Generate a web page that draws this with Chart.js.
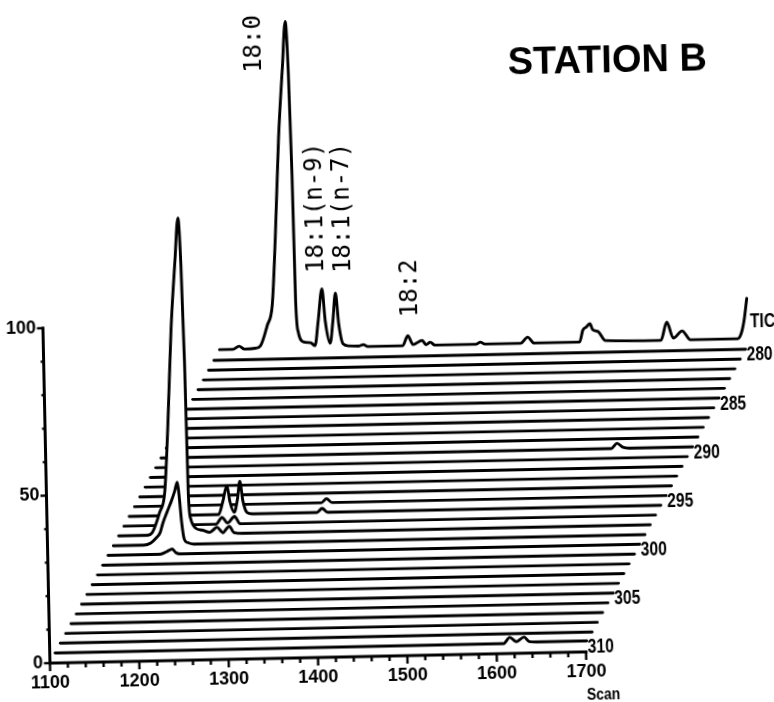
<!DOCTYPE html>
<html>
<head>
<meta charset="utf-8">
<title>Station B</title>
<script src="https://cdn.jsdelivr.net/npm/chart.js@4.4.1/dist/chart.umd.min.js"></script>
<style>
  html, body { margin: 0; padding: 0; background: #fff; overflow: hidden; }
  body { width: 774px; height: 702px; position: relative; }
  /* the original plot sits slightly tilted on the page */
  #wrap { position: absolute; left: -20px; top: -20px; width: 814px; height: 742px;
          transform: rotate(-1.2deg); transform-origin: 50% 50%; }
</style>
</head>
<body>
<div id="wrap"><canvas id="chart" width="814" height="742"></canvas></div>
<script>
// Ion traces, front (310) to back (280); the TIC sits behind them
const masses = [310, 309, 308, 307, 306, 305, 304, 303, 302, 301, 300,
                299, 298, 297, 296, 295, 294, 293, 292, 291, 290,
                289, 288, 287, 286, 285, 284, 283, 282, 281, 280];
const labelledMasses = [280, 285, 290, 295, 300, 305, 310];
const xTicks = [1100, 1200, 1300, 1400, 1500, 1600, 1700];
const yTicks = [0, 50, 100];

// [scan, intensity] pairs
const ticData = [
  [1100, 0], [1115, 0], [1122, 0.9], [1128, 0], [1140, 0.2], [1146, 0.9],
  [1154, 6.9], [1160, 12.8], [1165, 32.8], [1171, 62.7], [1177, 84], [1181.2, 97.5],
  [1183.5, 82], [1185.2, 52], [1186.3, 14], [1188.5, 4.8], [1194, 1.8], [1202, 1.5],
  [1207, 0.6], [1211, 7.8], [1216, 17.5], [1219, 7.8], [1224, 1.2], [1227.5, 7.8],
  [1231, 16.2], [1234, 6.9], [1238.5, 0.9], [1245, 0.3], [1256, 0.2], [1261, 0.6],
  [1266, 0], [1305, 0], [1311, 3.0], [1316.5, 0.3], [1327, 1.5], [1331, 0.2],
  [1336, 0.9], [1341, 0], [1387, 0], [1392, 0.6], [1397, 0], [1437, 0], [1445, 1.8],
  [1452, 0], [1503, 0], [1507, 3.6], [1511, 4.5], [1515, 5.4], [1518, 3.6], [1524, 3.0],
  [1532, 0.3], [1594, 0], [1601, 5.4], [1608, 0.6], [1618, 2.7], [1627, 0], [1680, 0],
  [1684, 1.5], [1687.5, 5.4], [1691, 12.0]
];
const ion310 = [[1106, 0], [1608, 0], [1615, 1.8], [1622, 0.5], [1631, 1.8], [1637, 0.4], [1645, 0.3], [1701, 0.3]];
const ion300 = [[1106, 0], [1163, 0], [1172, 0.8], [1178, 1.5], [1182, 0.4], [1187, 0], [1701, 0]];
const ion299 = [[1106, 0], [1140, 0], [1148, 0.6], [1155, 2.3], [1158.5, 3.5], [1162, 6.5], [1167, 9.8],
                [1172, 13], [1176, 16], [1179, 18.6], [1180.6, 15], [1183, 6.5], [1185.5, 1.5],
                [1189, 0.5], [1196, 0], [1701, 0]];
const ion298 = [[1106, 0], [1138, 0], [1144, 0.9], [1152.5, 6.8], [1158.5, 12.5], [1163.5, 32],
                [1169.5, 61.5], [1175.5, 82], [1179.8, 94.5], [1182, 80.5], [1183.8, 51],
                [1184.9, 12.5], [1187, 4.7], [1192.5, 1.8], [1200, 1.2], [1208, 0.5], [1212, 1.2],
                [1216, 2.0], [1223, 0.3], [1226, 1.2], [1230, 2.2], [1235, 0.3], [1245, 0], [1701, 0]];
const ion297 = [[1106, 0], [1209, 0], [1216, 2.0], [1222, 0.3], [1230, 2.2], [1236, 0], [1701, 0]];
const ion296 = [[1106, 0], [1206, 0], [1211, 3.8], [1216, 8.6], [1219, 3.8], [1223.5, 0.6],
                [1227.5, 4.5], [1230.5, 9.8], [1233.5, 4], [1238, 0.4], [1244, 0], [1316, 0],
                [1322, 1.2], [1328, 0], [1701, 0]];
const ion295 = [[1106, 0], [1315, 0], [1321, 1.2], [1327, 0], [1701, 0]];
const ion290 = [[1106, 0], [1610, 0], [1616.5, 1.5], [1623, 0.3], [1630, 0], [1701, 0]];
const flatTrace = [[1106, 0], [1701, 0]];

const ionData = { 310: ion310, 300: ion300, 299: ion299, 298: ion298, 297: ion297,
                  296: ion296, 295: ion295, 290: ion290 };

// annotation anchors, in the scan / intensity units of the axes
const peakLabels = [
  { text: '18:0', scan: 1340.5, value: 174.9 },
  { text: '18:1(n-9)', scan: 1405.6, value: 114.8 },
  { text: '18:1(n-7)', scan: 1435.8, value: 114.6 },
  { text: '18:2', scan: 1509.8, value: 101.0 }
];

// waterfall projection: each trace further back moves right and up
const stepScan = 6.15;
const stepValue = 2.877;
const baseValue = 3.0;
const ticShift = 197;
const ticBase = 92.5;

// plot frame, in canvas pixels
const frame = { left: 63.5, bottom: 676, width: 814, height: 742, pxPerScan: 0.8937, pxPerUnit: 3.35 };
const xMax = 1100 + (frame.width - frame.left) / frame.pxPerScan;
const yMax = frame.bottom / frame.pxPerUnit;

const ink = '#000';
const sans = '"Liberation Sans", Arial, sans-serif';

const lineStyle = {
  borderColor: ink,
  borderWidth: 2.9,
  backgroundColor: '#fff',
  pointRadius: 0,
  cubicInterpolationMode: 'monotone',
  borderJoinStyle: 'round',
  borderCapStyle: 'round'
};

const datasets = masses.map((m, k) => {
  const base = baseValue + k * stepValue;
  const pts = ionData[m] || flatTrace;
  return Object.assign({
    label: String(m),
    data: pts.map(([s, h]) => ({ x: s + k * stepScan, y: base + h })),
    fill: { value: base },
    order: k
  }, lineStyle);
});
datasets.push(Object.assign({
  label: 'TIC',
  data: ticData.map(([s, h]) => ({ x: s + ticShift, y: ticBase + h })),
  fill: { value: ticBase },
  order: masses.length
}, lineStyle));

// plotter lettering is tall and narrow: squeeze a bold face sideways
function narrowText(ctx, text, x, y, size, squeeze) {
  ctx.save();
  ctx.font = `bold ${size}px ${sans}`;
  ctx.translate(x, y);
  ctx.scale(squeeze, 1);
  ctx.fillText(text, 0, 0);
  ctx.restore();
}

// keep the plot frame exactly where it is measured
function pinAxis(axis, size) {
  if (axis.isHorizontal()) axis.height = size; else axis.width = size;
  axis.paddingTop = 0;
  axis.paddingBottom = 0;
  axis.paddingLeft = 0;
  axis.paddingRight = 0;
}

// axes, tick marks and all the lettering
const plotterAxes = {
  id: 'plotterAxes',
  afterDraw(chart) {
    const { ctx, scales: { x, y } } = chart;
    const px = v => x.getPixelForValue(v);
    const py = v => y.getPixelForValue(v);
    ctx.save();
    ctx.strokeStyle = ink;
    ctx.fillStyle = ink;

    ctx.lineWidth = 3;
    ctx.lineCap = 'square';
    ctx.beginPath();
    ctx.moveTo(px(1100), py(100));
    ctx.lineTo(px(1100), py(0));
    ctx.lineTo(px(1700), py(0));
    ctx.stroke();

    ctx.lineWidth = 2.4;
    ctx.lineCap = 'butt';
    for (let v = 0; v <= 100; v += 10) {
      const len = v % 50 === 0 ? 6 : 3;
      ctx.beginPath();
      ctx.moveTo(px(1100), py(v));
      ctx.lineTo(px(1100) - len, py(v));
      ctx.stroke();
    }
    for (let s = 1100; s <= 1700; s += 20) {
      const len = s % 100 === 0 ? 8 : 5;
      ctx.beginPath();
      ctx.moveTo(px(s), py(0));
      ctx.lineTo(px(s), py(0) + len);
      ctx.stroke();
    }

    // peak names, written upwards
    ctx.font = '24px "DejaVu Sans Mono", monospace';
    ctx.textAlign = 'left';
    ctx.textBaseline = 'alphabetic';
    peakLabels.forEach(l => {
      ctx.save();
      ctx.translate(px(l.scan), py(l.value));
      ctx.rotate(-Math.PI / 2);
      ctx.fillText(l.text, 0, 24 * 0.36);
      ctx.restore();
    });

    // trace numbers at the right ends
    ctx.textBaseline = 'middle';
    labelledMasses.forEach(m => {
      const k = masses.indexOf(m);
      const base = baseValue + k * stepValue;
      narrowText(ctx, String(m), px(1701 + k * stepScan) + 1, py(base - 1.8), 20, 0.78);
    });
    narrowText(ctx, 'TIC', px(1891.2), py(97.5), 20, 0.78);
    ctx.textBaseline = 'top';
    narrowText(ctx, 'Scan', px(1700), py(-10.5), 17, 0.82);

    ctx.font = `bold 38px ${sans}`;
    ctx.textBaseline = 'alphabetic';
    ctx.fillText('STATION B', px(1626.2), py(172.7));
    ctx.restore();
  }
};

new Chart(document.getElementById('chart'), {
  type: 'line',
  data: { datasets },
  options: {
    responsive: false,
    animation: false,
    layout: { padding: 0, autoPadding: false },
    plugins: { legend: { display: false }, tooltip: { enabled: false }, title: { display: false } },
    scales: {
      x: {
        type: 'linear',
        min: 1100,
        max: xMax,
        afterBuildTicks: axis => { axis.ticks = xTicks.map(v => ({ value: v })); },
        afterFit: axis => pinAxis(axis, frame.height - frame.bottom),
        grid: { display: false, drawTicks: false },
        border: { display: false },
        ticks: {
          autoSkip: false, maxRotation: 0, padding: 9, color: ink,
          callback: v => String(v),
          font: { family: sans, size: 18, weight: 'bold' }
        }
      },
      y: {
        type: 'linear',
        min: 0,
        max: yMax,
        afterBuildTicks: axis => { axis.ticks = yTicks.map(v => ({ value: v })); },
        afterFit: axis => pinAxis(axis, frame.left),
        grid: { display: false, drawTicks: false },
        border: { display: false },
        ticks: {
          padding: 7, color: ink,
          callback: v => String(v),
          font: { family: sans, size: 18, weight: 'bold' }
        }
      }
    }
  },
  plugins: [plotterAxes]
});
</script>
</body>
</html>
